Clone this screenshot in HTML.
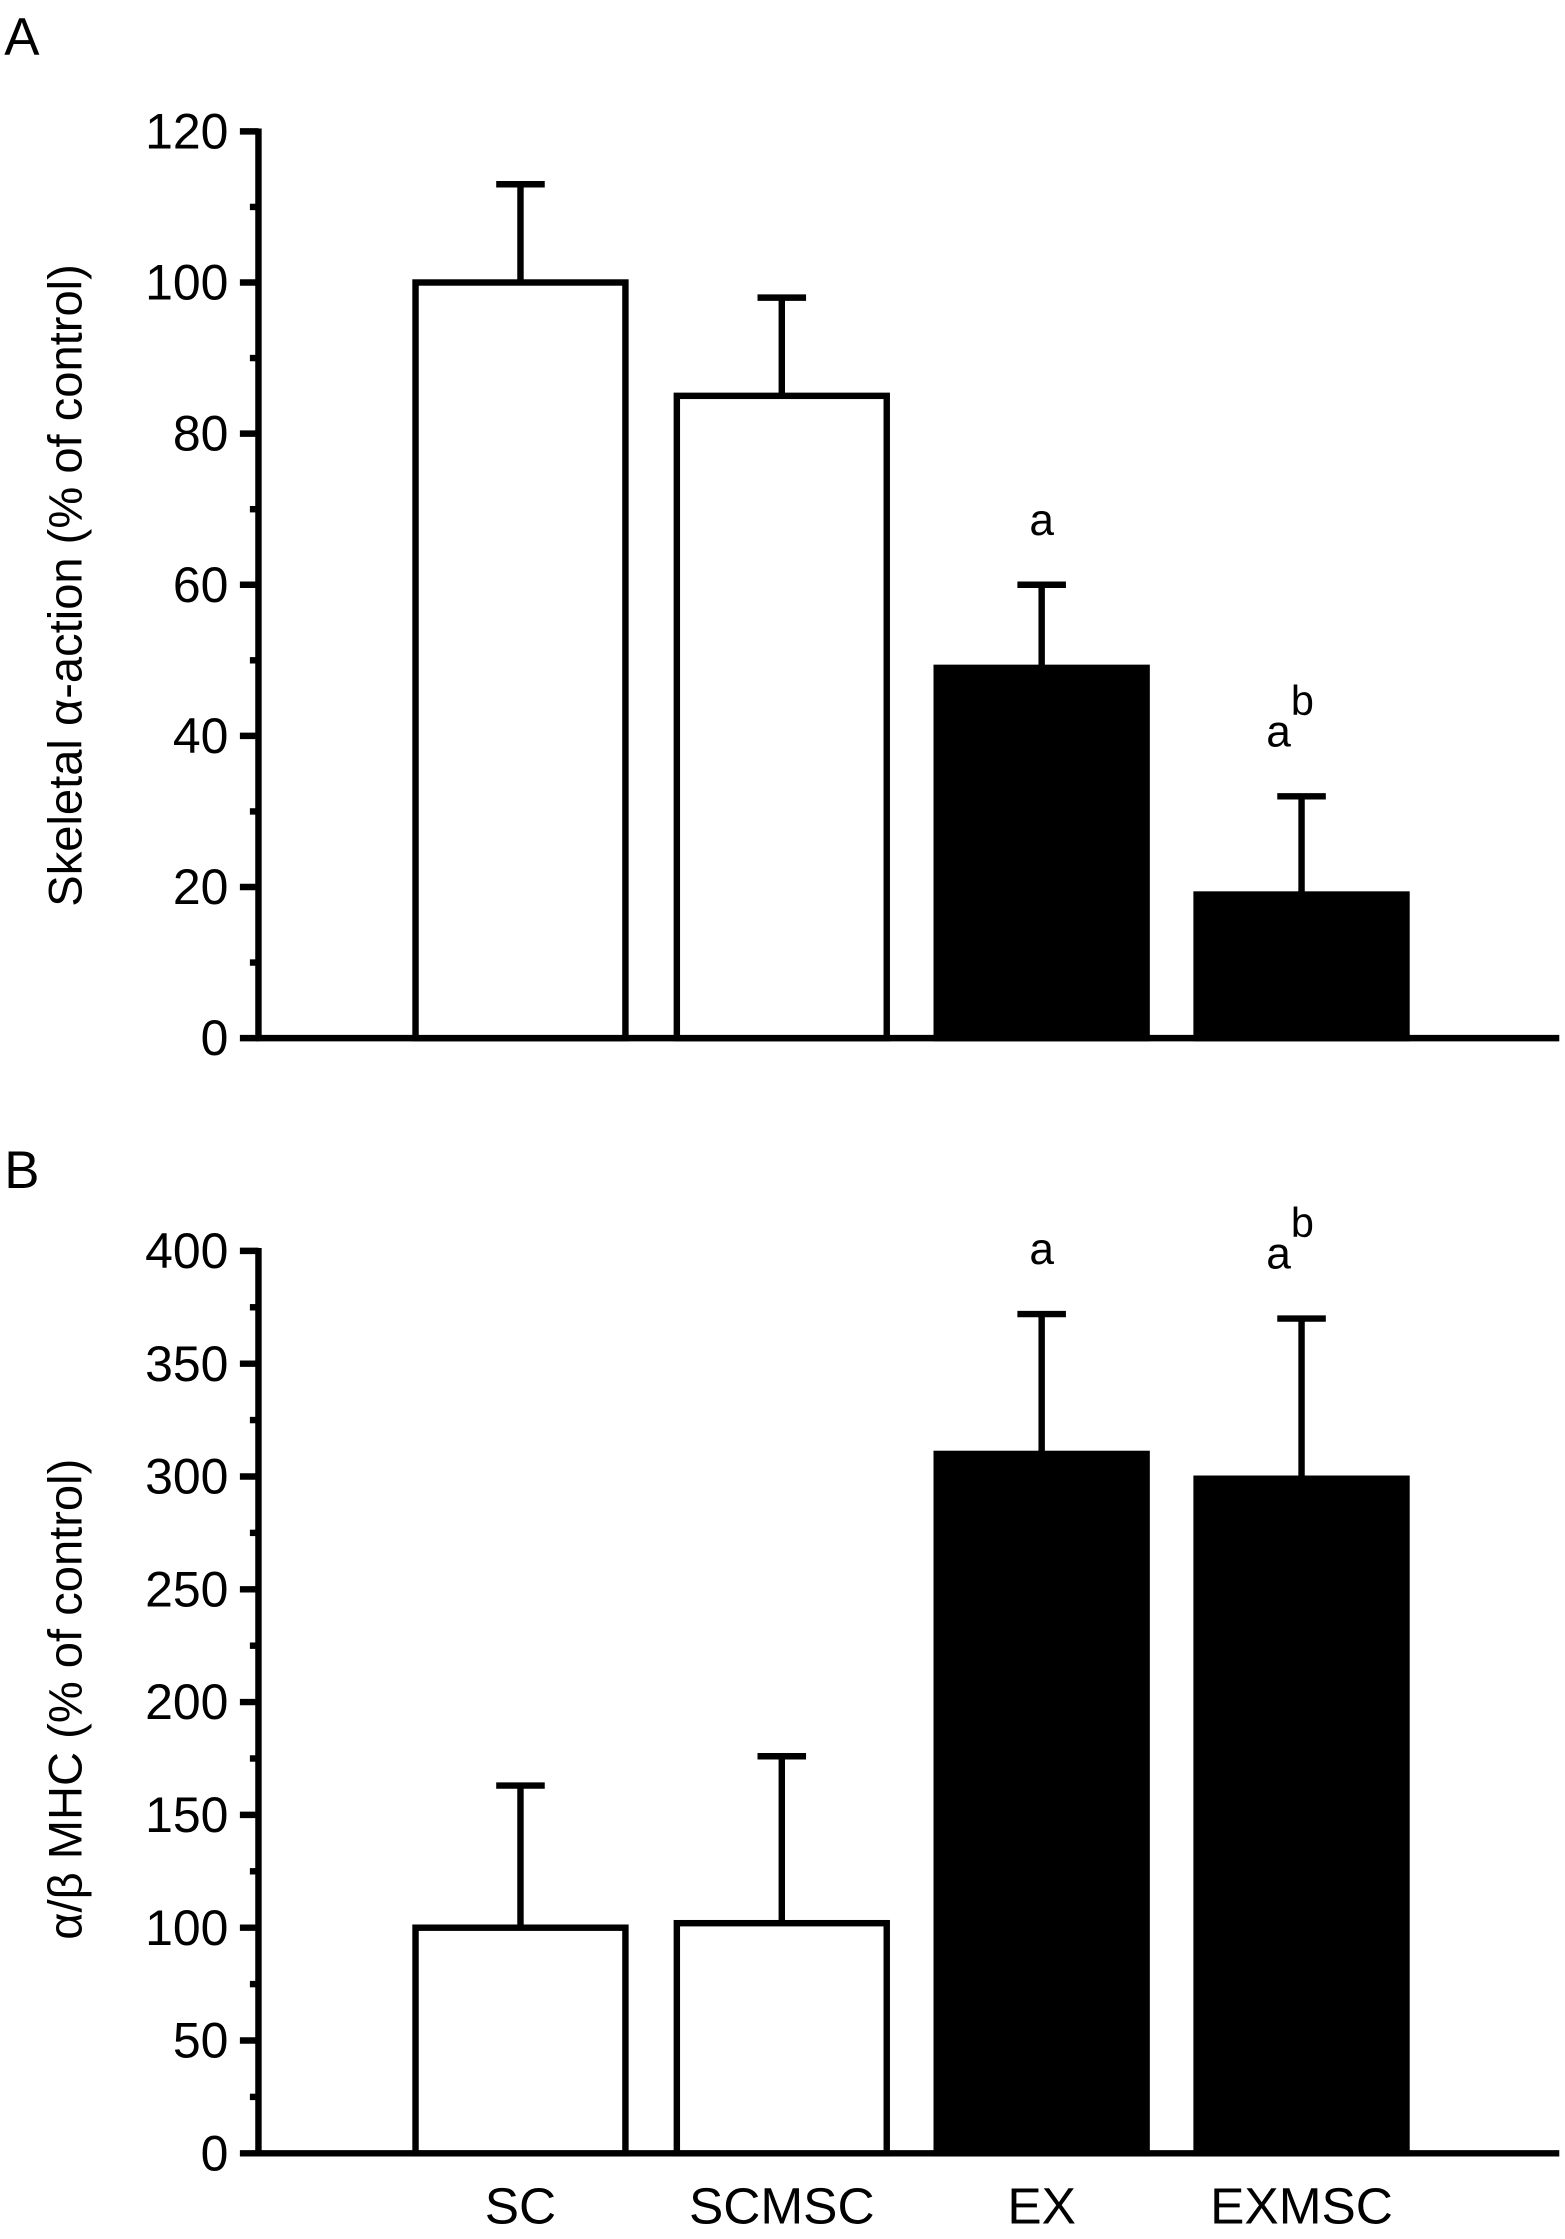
<!DOCTYPE html>
<html><head><meta charset="utf-8"><style>
html,body{margin:0;padding:0;background:#fff;}
svg{display:block;}
text{font-family:"Liberation Sans",sans-serif;fill:#000;}
</style></head><body>
<svg id="chart" width="1565" height="2239" viewBox="0 0 1096 1568" xmlns="http://www.w3.org/2000/svg"></svg>
<script>
const categories = ["SC","SCMSC","EX","EXMSC"];
const fills = ["#fff","#fff","#000","#000"];
const valuesA = [100,85,49,19];
const errorsA = [113,98,60,32];
const ticksA = [0,20,40,60,80,100,120];
const valuesB = [100,102,310,299];
const errorsB = [163,176,372,370];
const ticksB = [0,50,100,150,200,250,300,350,400];
const sigA = ["","","a","ab"];
const sigB = ["","","a","ab"];

const svg = document.getElementById('chart');
const NS = "http://www.w3.org/2000/svg";
function el(tag, attrs, parent){
  const e = document.createElementNS(NS, tag);
  for (const k in attrs) e.setAttribute(k, attrs[k]);
  (parent||svg).appendChild(e);
  return e;
}
const barLeft = [291,474,656,838];
const barW = 147;
const SW = 4.5;

function panel(id, letter, letterY, y0, yTop, maxV, ticks, values, errors, sig, title, titleY){
  const g = el('g', {});
  
  
  const y = v => y0 - (v / maxV) * (y0 - yTop);
  const L = el('text', {x:3, y:letterY, 'font-size':37}, g);
  L.textContent = letter;
  
  
  const ax = el('line', {x1:181, y1:yTop-2, x2:181, y2:y0+2, stroke:'#000','stroke-width':SW}, g);
  
  
  const xa = el('line', {x1:179, y1:y0, x2:1092, y2:y0, stroke:'#000','stroke-width':SW}, g);
  
  
  for (let i = 0; i < ticks.length; i++){
    const t = ticks[i];
    const tk = el('line', {x1:168, y1:y(t), x2:181, y2:y(t), stroke:'#000','stroke-width':SW}, g);
    
    
    const tl = el('text', {x:160, y:y(t)+12, 'font-size':35, 'text-anchor':'end'}, g);
    tl.textContent = t;
    
    
    if (i < ticks.length - 1){
      const m = (t + ticks[i+1]) / 2;
      const mt = el('line', {x1:175, y1:y(m), x2:181, y2:y(m), stroke:'#000','stroke-width':SW}, g);
      
      
    }
  }
  for (let i = 0; i < categories.length; i++){
    const cx = barLeft[i] + barW/2;
    const eb = el('line', {x1:cx, y1:y(values[i]), x2:cx, y2:y(errors[i]), stroke:'#000','stroke-width':SW}, g);
    
    
    const cap = el('line', {x1:cx-17, y1:y(errors[i]), x2:cx+17, y2:y(errors[i]), stroke:'#000','stroke-width':SW}, g);
    
    
    const r = el('rect', {x:barLeft[i], y:y(values[i]), width:barW, height:y0 - y(values[i]), fill:fills[i], stroke:'#000','stroke-width':SW}, g);
    
    
    if (sig[i]){
      const st = el('text', {x:cx - (sig[i].length>1?8:0), y:y(errors[i]) - 35, 'font-size':31, 'text-anchor':'middle'}, g);
      st.textContent = sig[i][0];
      if (sig[i].length > 1){
        const sp = el('tspan', {dy:-22, 'font-size':29}, st);
        sp.textContent = sig[i].slice(1);
      }
      
      
    }
  }
  const tt = el('text', {x:0, y:0, 'font-size':33, 'text-anchor':'middle', transform:'translate(57,'+titleY+') rotate(-90)'}, g);
  tt.textContent = title;
  
  
  return y;
}
panel('a','A',38,727,92,120,ticksA,valuesA,errorsA,sigA,'Skeletal \u03b1-action (% of control)',410);
panel('b','B',832,1508,876,400,ticksB,valuesB,errorsB,sigB,'\u03b1/\u03b2 MHC (% of control)',1190);
for (let i = 0; i < categories.length; i++){
  const xl = el('text', {x:barLeft[i]+barW/2, y:1557, 'font-size':36, 'text-anchor':'middle'});
  xl.textContent = categories[i];
  
  
}
</script>
</body></html>
